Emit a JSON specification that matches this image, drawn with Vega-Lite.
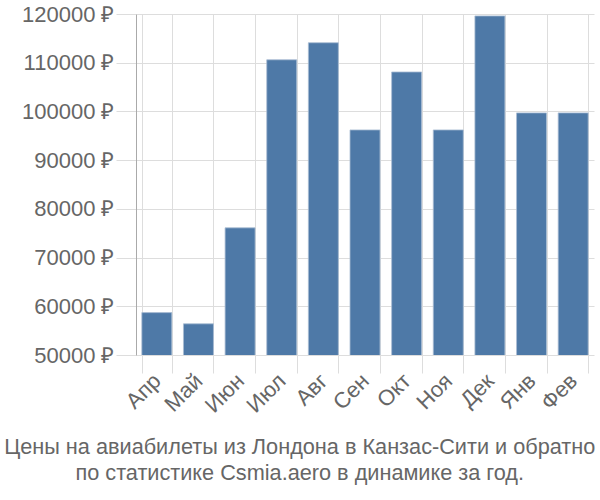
{
  "$schema": "https://vega.github.io/schema/vega-lite/v6.json",
  "autosize": "none",
  "width": 458,
  "height": 341,
  "padding": {"left": 136, "top": 14, "right": 6, "bottom": 145},
  "background": "white",
  "config": {
    "view": {"stroke": null},
    "font": "Liberation Sans"
  },
  "title": {
    "text": ["Цены на авиабилеты из Лондона в Канзас-Сити и обратно", "по статистике Csmia.aero в динамике за год."],
    "orient": "bottom",
    "anchor": "middle",
    "frame": "bounds",
    "fontSize": 21.7,
    "fontWeight": "normal",
    "color": "#666666",
    "lineHeight": 26,
    "offset": 21,
    "dx": -8
  },
  "data": {
    "values": [
      {"month": "Апр", "price": 58700},
      {"month": "Май", "price": 56400},
      {"month": "Июн", "price": 76100},
      {"month": "Июл", "price": 110600},
      {"month": "Авг", "price": 114100},
      {"month": "Сен", "price": 96200},
      {"month": "Окт", "price": 108100},
      {"month": "Ноя", "price": 96200},
      {"month": "Дек", "price": 119600},
      {"month": "Янв", "price": 99700},
      {"month": "Фев", "price": 99700}
    ]
  },
  "mark": {"type": "bar", "color": "#4e79a7", "stroke": "#a9bdd3", "strokeWidth": 0.8, "clip": true},
  "encoding": {
    "x": {
      "field": "month",
      "type": "nominal",
      "sort": null,
      "scale": {"paddingInner": 0.28, "paddingOuter": 0.14},
      "axis": {
        "title": null,
        "labelAngle": -45,
        "labelAlign": "right",
        "labelBaseline": "middle",
        "labelFontSize": 22,
        "labelColor": "#666666",
        "labelPadding": 4,
        "tickBand": "extent",
        "tickSize": 18,
        "tickColor": "#dddddd",
        "grid": true,
        "gridColor": "#dddddd",
        "domain": false
      }
    },
    "y": {
      "field": "price",
      "type": "quantitative",
      "scale": {"domain": [50000, 120000], "nice": false, "zero": false},
      "axis": {
        "title": null,
        "values": [50000, 60000, 70000, 80000, 90000, 100000, 110000, 120000],
        "labelExpr": "format(datum.value, 'd') + ' ₽'",
        "labelFontSize": 22,
        "labelColor": "#666666",
        "labelPadding": 2,
        "tickSize": 20,
        "tickColor": "#dddddd",
        "gridColor": "#dddddd",
        "domainColor": "#aaaaaa"
      }
    }
  }
}
